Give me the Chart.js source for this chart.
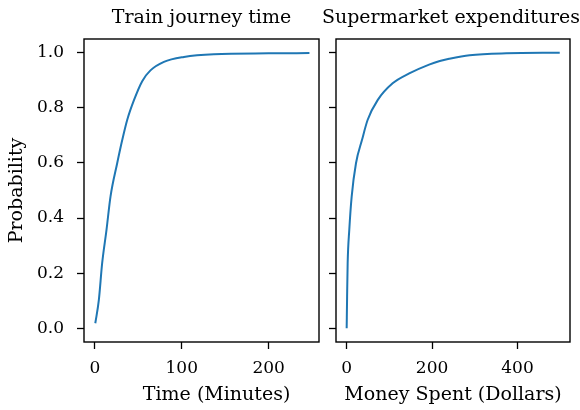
<!DOCTYPE html>
<html>
<head>
<meta charset="utf-8">
<script src="https://cdn.jsdelivr.net/npm/chart.js@4/dist/chart.umd.min.js"></script>
<style>
  html, body { margin: 0; padding: 0; background: #ffffff; }
  #wrap { position: relative; width: 580px; height: 410px; overflow: hidden; background: #ffffff; }
  canvas { position: absolute; top: 0; }
</style>
</head>
<body>
<div id="wrap">
  <canvas id="c1" width="320" height="410" style="left:0px"></canvas>
  <canvas id="c2" width="258" height="410" style="left:322px"></canvas>
</div>
<script>
// ---- data ----
const trainTitle = "Train journey time";
const trainXLabel = "Time (Minutes)";
const trainTime = [0.5, 4.6, 8.4, 13.4, 18, 25.7, 31.5, 37.2, 45, 54.5, 64, 79.5, 102.5, 137, 200, 247];
const trainProb = [0.018, 0.103, 0.236, 0.357, 0.478, 0.599, 0.683, 0.756, 0.828, 0.897, 0.936, 0.967, 0.985, 0.995, 0.998, 0.999];

const marketTitle = "Supermarket expenditures";
const marketXLabel = "Money Spent (Dollars)";
const moneySpent = [0, 1, 2.3, 6.1, 11.7, 21.8, 35.8, 49, 72.5, 107.6, 146.5, 193, 218, 240, 288, 374, 499];
const moneyProb = [0, 0.115, 0.236, 0.357, 0.478, 0.599, 0.683, 0.756, 0.828, 0.889, 0.925, 0.957, 0.970, 0.978, 0.991, 0.998, 1.0];

const yLabel = "Probability";
const yTicks = [0, 0.2, 0.4, 0.6, 0.8, 1.0];
const trainXTicks = [0, 100, 200];
const marketXTicks = [0, 200, 400];

// ---- styling ----
const FONT = "'DejaVu Serif', 'Liberation Serif', serif";
const LINE = '#1f77b4';

const framePlugin = {
  id: 'frame',
  afterDraw(chart) {
    const a = chart.chartArea, ctx = chart.ctx;
    ctx.save();
    ctx.strokeStyle = '#000';
    ctx.lineWidth = 1.4;
    ctx.strokeRect(a.left, a.top, a.right - a.left, a.bottom - a.top);
    ctx.restore();
  }
};

function toPoints(xs, ys) { return xs.map((x, i) => ({ x: x, y: ys[i] })); }

function makeChart(id, cfg) {
  return new Chart(document.getElementById(id), {
    type: 'line',
    data: {
      datasets: [{
        data: toPoints(cfg.xs, cfg.ys),
        borderColor: LINE,
        borderWidth: 2,
        pointRadius: 0,
        fill: false,
        cubicInterpolationMode: 'monotone'
      }]
    },
    options: {
      responsive: false,
      animation: false,
      devicePixelRatio: 1,
      layout: { padding: { left: 0, right: cfg.padRight, top: 0, bottom: 0 } },
      plugins: {
        legend: { display: false },
        tooltip: { enabled: false },
        title: {
          display: true,
          text: cfg.title,
          fullSize: cfg.titleFull,
          color: '#000',
          font: { family: FONT, size: 19, weight: 'normal', lineHeight: 1.2 },
          padding: { top: 7, bottom: 9.2 }
        }
      },
      scales: Object.assign({
        x: {
          type: 'linear',
          min: cfg.xMin, max: cfg.xMax,
          afterBuildTicks: s => { s.ticks = cfg.xTicks.map(v => ({ value: v })); },
          ticks: {
            color: '#000',
            font: { family: FONT, size: 17, lineHeight: 1.2 },
            padding: 9,
            maxRotation: 0,
            includeBounds: false,
            callback: v => String(v)
          },
          grid: { drawOnChartArea: false, drawTicks: true, tickLength: 7, tickWidth: 1.3, tickColor: '#000' },
          border: { display: false },
          title: {
            display: true,
            text: cfg.xLabelPad + cfg.xLabel,
            color: '#000',
            font: { family: FONT, size: 19, lineHeight: 1.2 },
            padding: { top: 0, bottom: 3.6 }
          },
          afterFit: s => { s.height = 68; }
        },
        y: {
          type: 'linear',
          min: -0.05, max: 1.05,
          afterBuildTicks: s => { s.ticks = yTicks.map(v => ({ value: v })); },
          ticks: {
            display: cfg.showY,
            color: '#000',
            font: { family: FONT, size: 17, lineHeight: 1.2 },
            padding: 13,
            includeBounds: false,
            callback: v => Number(v).toFixed(1)
          },
          grid: { drawOnChartArea: false, drawTicks: true, tickLength: 7, tickWidth: 1.3, tickColor: '#000' },
          border: { display: false },
          title: {
            display: cfg.showY,
            text: yLabel,
            color: '#000',
            font: { family: FONT, size: 19, lineHeight: 1.2 },
            padding: { top: 6, bottom: 0 }
          },
          afterFit: s => { s.width = cfg.yWidth; }
        }
      }, cfg.extraScales || {})
    },
    plugins: [framePlugin]
  });
}

makeChart('c1', {
  xs: trainTime, ys: trainProb, title: trainTitle, xLabel: trainXLabel, xLabelPad: '\u00a0\u00a0\u00a0\u00a0\u00a0',
  xMin: -12.5, xMax: 258, xTicks: trainXTicks,
  showY: true, yWidth: 84, padRight: 1, titleFull: false
});

makeChart('c2', {
  xs: moneySpent, ys: moneyProb, title: marketTitle, xLabel: marketXLabel, xLabelPad: '',
  xMin: -25, xMax: 523, xTicks: marketXTicks,
  showY: false, yWidth: 14, padRight: 0, titleFull: true,
  extraScales: {
    y2: {
      position: 'right',
      display: true,
      ticks: { display: false },
      grid: { display: false, drawTicks: false },
      border: { display: false },
      afterFit: s => { s.width = 10; }
    }
  }
});
</script>
</body>
</html>
